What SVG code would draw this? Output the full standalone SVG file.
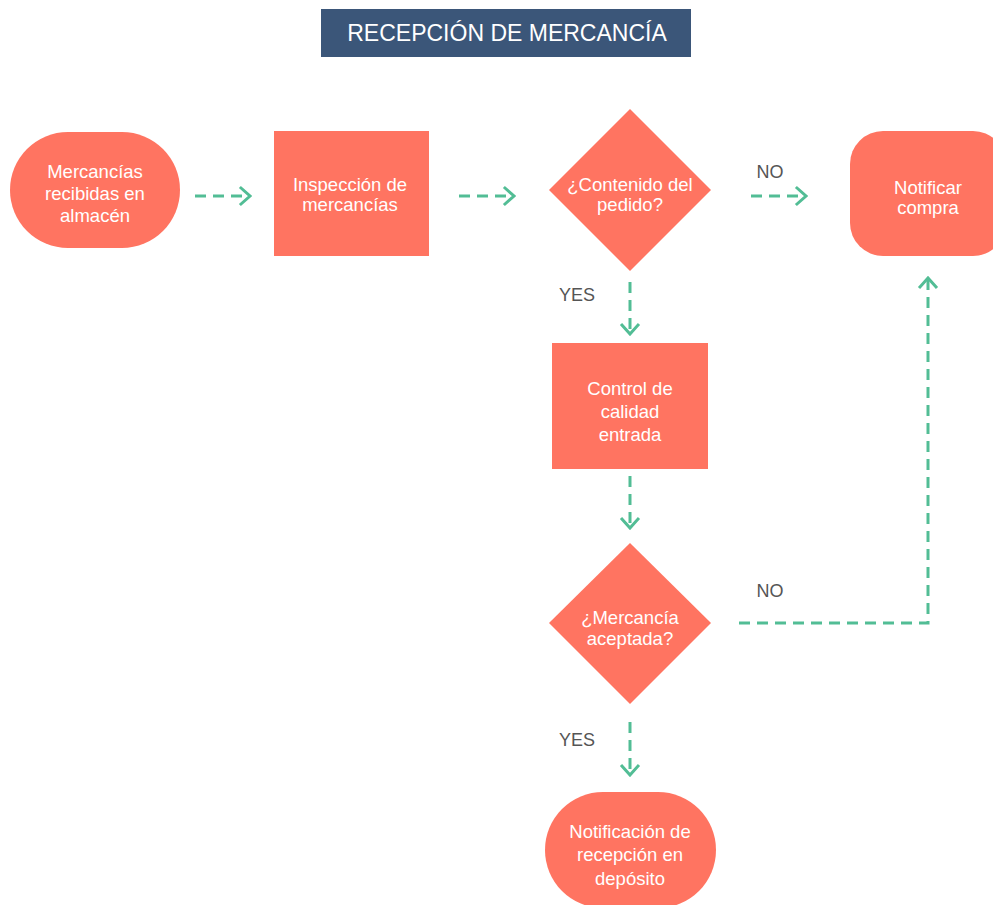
<svg xmlns="http://www.w3.org/2000/svg" width="993" height="905" viewBox="0 0 993 905">
<defs>
<marker id="chev" markerUnits="userSpaceOnUse" viewBox="-12 -11 14 22" markerWidth="14" markerHeight="22" refX="0" refY="0" orient="auto">
<path d="M-9,-8 L0,0 L-9,8" fill="none" stroke="#52bd95" stroke-width="3" stroke-linecap="square"/>
</marker>
<style>
.node{fill:#ff7461}
.t{font-family:"Liberation Sans",Arial,sans-serif;font-size:18.5px;fill:#ffffff;text-anchor:middle}
.lbl{font-family:"Liberation Sans",Arial,sans-serif;font-size:18px;fill:#555555;text-anchor:middle}
.c{fill:none;stroke:#52bd95;stroke-width:3;stroke-dasharray:11 7;marker-end:url(#chev)}
</style>
</defs>
<rect width="993" height="905" fill="#ffffff"/>
<g id="title">
<rect x="321" y="9" width="370" height="48" fill="#3b5679"/>
<text x="507" y="41" font-family="Liberation Sans, Arial, sans-serif" font-size="23" fill="#ffffff" text-anchor="middle">RECEPCIÓN DE MERCANCÍA</text>
</g>
<g id="connectors">
<path class="c" d="M195,196 L250,196"/>
<path class="c" d="M459,196 L514,196"/>
<path class="c" d="M751,196 L806,196"/>
<path class="c" d="M630,282 L630,334"/>
<path class="c" d="M630,476 L630,528"/>
<path class="c" d="M630,722 L630,775"/>
<path class="c" d="M739,623 L928,623 L928,278"/>
</g>
<g id="labels">
<text class="lbl" x="770" y="178">NO</text>
<text class="lbl" x="577" y="301">YES</text>
<text class="lbl" x="770" y="597">NO</text>
<text class="lbl" x="577" y="746">YES</text>
</g>
<g id="n1">
<rect class="node" x="10" y="132" width="170" height="116" rx="58" ry="58"/>
<text class="t" x="95" y="178">Mercancías</text>
<text class="t" x="95" y="200">recibidas en</text>
<text class="t" x="95" y="222">almacén</text>
</g>
<g id="n2">
<rect class="node" x="274" y="131" width="155" height="125"/>
<text class="t" x="350" y="191">Inspección de</text>
<text class="t" x="350" y="211">mercancías</text>
</g>
<g id="n3">
<polygon class="node" points="630,109 711,190 630,271 549,190"/>
<text class="t" x="630" y="191">¿Contenido del</text>
<text class="t" x="630" y="211">pedido?</text>
</g>
<g id="n4">
<rect class="node" x="850" y="131" width="156" height="125" rx="33" ry="33"/>
<text class="t" x="928" y="194">Notificar</text>
<text class="t" x="928" y="214">compra</text>
</g>
<g id="n5">
<rect class="node" x="552" y="343" width="156" height="126"/>
<text class="t" x="630" y="395">Control de</text>
<text class="t" x="630" y="418">calidad</text>
<text class="t" x="630" y="441">entrada</text>
</g>
<g id="n6">
<polygon class="node" points="630,543 711,623 630,704 549,623"/>
<text class="t" x="630" y="624">¿Mercancía</text>
<text class="t" x="630" y="645">aceptada?</text>
</g>
<g id="n7">
<rect class="node" x="545" y="792" width="171" height="116" rx="58" ry="58"/>
<text class="t" x="630" y="838">Notificación de</text>
<text class="t" x="630" y="861">recepción en</text>
<text class="t" x="630" y="885">depósito</text>
</g>
</svg>
